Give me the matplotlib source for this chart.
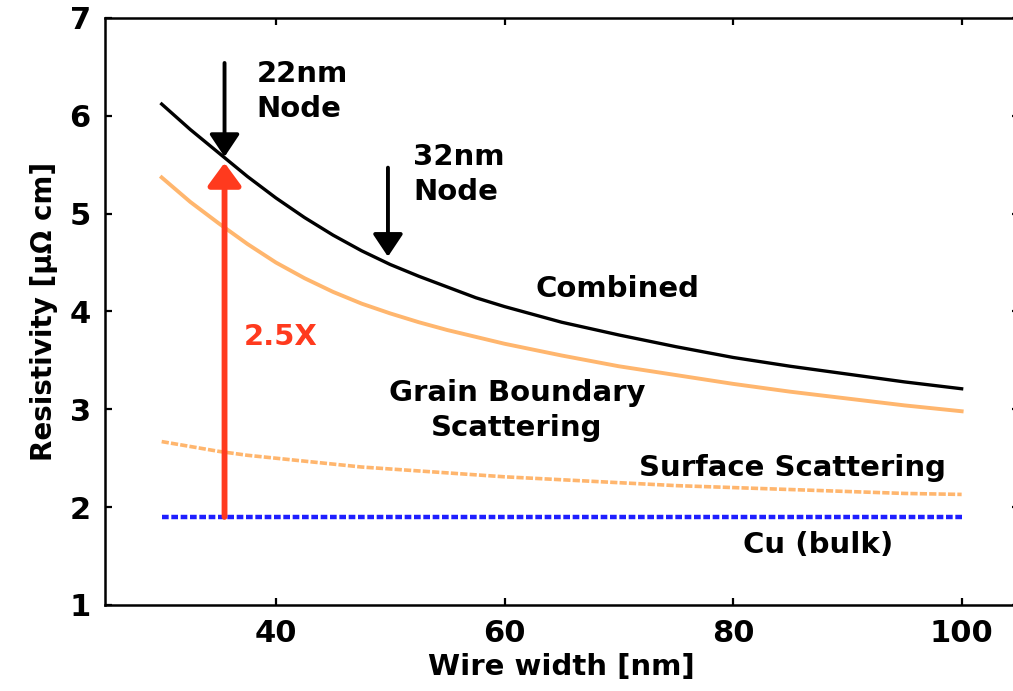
import numpy as np
import matplotlib
matplotlib.use('Agg')
import matplotlib.pyplot as plt

# wire width [nm]
width_nm = [30, 32.5, 35, 37.5, 40, 42.5, 45, 47.5, 50, 52.5, 55, 57.5, 60,
            65, 70, 75, 80, 85, 90, 95, 100]

# resistivity [uOhm cm]
combined = [6.12, 5.86, 5.62, 5.38, 5.16, 4.96, 4.78, 4.62, 4.48, 4.36, 4.25,
            4.14, 4.05, 3.89, 3.76, 3.64, 3.53, 3.44, 3.36, 3.28, 3.21]
grain_boundary = [5.37, 5.12, 4.90, 4.69, 4.50, 4.34, 4.20, 4.08, 3.98, 3.89,
                  3.81, 3.74, 3.67, 3.55, 3.44, 3.35, 3.26, 3.18, 3.11, 3.04,
                  2.98]
surface = [2.67, 2.62, 2.57, 2.53, 2.50, 2.47, 2.44, 2.41, 2.39, 2.37, 2.35,
           2.33, 2.31, 2.28, 2.25, 2.22, 2.20, 2.18, 2.16, 2.14, 2.13]
cu_bulk = [1.90] * len(width_nm)

node_22 = 35.5      # wire width marked as 22nm node
node_32 = 49.8      # wire width marked as 32nm node
rho_22 = 5.52
rho_32 = 4.52

x_ticks = [40, 60, 80, 100]
y_ticks = [1, 2, 3, 4, 5, 6, 7]

plt.rcParams['font.family'] = ['DejaVu Sans']
plt.rcParams['font.weight'] = 'bold'

fig = plt.figure(figsize=(10.13, 6.91), dpi=100)
ax = fig.add_axes([0.1032, 0.1245, 0.9025, 0.8495])

orange = '#FFB66E'
ax.plot(width_nm, cu_bulk, color='#1E1EFF', lw=3.2, linestyle=(0, (1.5, 0.6)))
ax.plot(width_nm, surface, color=orange, lw=2.6, linestyle=(0, (2.0, 0.6)))
ax.plot(width_nm, grain_boundary, color=orange, lw=2.8)
ax.plot(width_nm, combined, color='black', lw=2.4)

# 2.5X arrow
ax.annotate('', xy=(node_22, rho_22), xytext=(node_22, cu_bulk[0]),
            arrowprops=dict(arrowstyle='-|>,head_length=0.3,head_width=0.22',
                            lw=4.2, color='#FF3A1E', mutation_scale=46,
                            shrinkA=0, shrinkB=0))

# node arrows
ax.annotate('', xy=(node_22, rho_22 + 0.06), xytext=(node_22, 6.54),
            arrowprops=dict(arrowstyle='-|>,head_length=0.3,head_width=0.2',
                            lw=2.8, color='black', mutation_scale=46,
                            shrinkA=0, shrinkB=0))
ax.annotate('', xy=(node_32, rho_32 + 0.04), xytext=(node_32, 5.47),
            arrowprops=dict(arrowstyle='-|>,head_length=0.3,head_width=0.2',
                            lw=2.8, color='black', mutation_scale=46,
                            shrinkA=0, shrinkB=0))

fs = 21
ax.text(38.3, 6.25, '22nm\nNode', fontsize=fs, fontweight='bold',
        ha='left', va='center', linespacing=1.3)
ax.text(52.0, 5.40, '32nm\nNode', fontsize=fs, fontweight='bold',
        ha='left', va='center', linespacing=1.3)
ax.text(69.9, 4.23, 'Combined', fontsize=fs, fontweight='bold',
        ha='center', va='center')
ax.text(61.1, 2.99, 'Grain Boundary\nScattering', fontsize=fs, fontweight='bold',
        ha='center', va='center', linespacing=1.3)
ax.text(85.2, 2.40, 'Surface Scattering', fontsize=fs, fontweight='bold',
        ha='center', va='center')
ax.text(87.4, 1.61, 'Cu (bulk)', fontsize=fs, fontweight='bold',
        ha='center', va='center')
ax.text(40.4, 3.74, '2.5X', fontsize=fs, fontweight='bold', color='#FF3A1E',
        ha='center', va='center')

ax.set_xlim(25, 105)
ax.set_ylim(1, 7)
ax.set_xticks(x_ticks)
ax.set_yticks(y_ticks)
ax.tick_params(direction='in', length=5, width=1.6, top=True, right=True,
               labelsize=22, pad=10)
for lab in ax.get_xticklabels() + ax.get_yticklabels():
    lab.set_fontweight('bold')
for sp in ax.spines.values():
    sp.set_linewidth(1.8)

ax.set_xlabel('Wire width [nm]', fontsize=21, fontweight='bold', labelpad=4)
ax.set_ylabel('Resistivity [\u00b5\u03a9 cm]', fontsize=20, fontweight='bold',
              labelpad=8)

fig.savefig('out.png', dpi=100)
